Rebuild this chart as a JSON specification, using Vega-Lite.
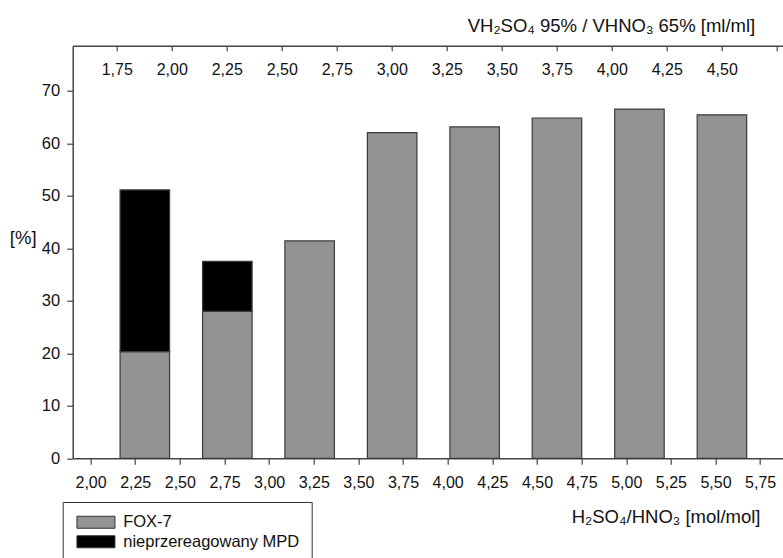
{
  "$schema": "https://vega.github.io/schema/vega-lite/v6.json",
  "autosize": "none",
  "padding": {"left": 72.7, "top": 45.7, "right": 0, "bottom": 99.7},
  "width": 710.3,
  "height": 412.6,
  "background": "white",
  "config": {
    "view": {"stroke": null},
    "font": "Liberation Sans",
    "axis": {
      "domainColor": "#444",
      "domainWidth": 1.5,
      "tickColor": "#444",
      "tickWidth": 1.2,
      "grid": false,
      "labelFont": "Liberation Sans",
      "labelFontSize": 16,
      "labelColor": "#111",
      "titleFont": "Liberation Sans",
      "titleFontWeight": "normal",
      "titleColor": "#111"
    }
  },
  "data": {
    "values": [
      {"mol": 2.304, "vol": 1.875, "sklad": "FOX-7", "proc": 20.3},
      {"mol": 2.304, "vol": 1.875, "sklad": "nieprzereagowany MPD", "proc": 30.8},
      {"mol": 2.766, "vol": 2.25, "sklad": "FOX-7", "proc": 28.0},
      {"mol": 2.766, "vol": 2.25, "sklad": "nieprzereagowany MPD", "proc": 9.5},
      {"mol": 3.227, "vol": 2.625, "sklad": "FOX-7", "proc": 41.4},
      {"mol": 3.689, "vol": 3.0, "sklad": "FOX-7", "proc": 62.0},
      {"mol": 4.151, "vol": 3.375, "sklad": "FOX-7", "proc": 63.1},
      {"mol": 4.612, "vol": 3.75, "sklad": "FOX-7", "proc": 64.8},
      {"mol": 5.074, "vol": 4.125, "sklad": "FOX-7", "proc": 66.5},
      {"mol": 5.536, "vol": 4.5, "sklad": "FOX-7", "proc": 65.4}
    ]
  },
  "layer": [
    {
      "mark": {"type": "bar", "width": 49.5, "stroke": "#3a3a3a", "strokeWidth": 1.2},
      "encoding": {
        "x": {
          "field": "mol",
          "type": "quantitative",
          "scale": {"domain": [1.9, 5.878], "nice": false, "zero": false, "padding": 0},
          "axis": {
            "orient": "bottom",
            "values": [2.0, 2.25, 2.5, 2.75, 3.0, 3.25, 3.5, 3.75, 4.0, 4.25, 4.5, 4.75, 5.0, 5.25, 5.5, 5.75],
            "labelExpr": "replace(format(datum.value, '.2f'), '.', ',')",
            "tickSize": 6,
            "labelPadding": 18,
            "labelBaseline": "middle",
            "labelFlush": false,
            "labelOverlap": false,
            "title": "H₂SO₄/HNO₃ [mol/mol]",
            "titleFontSize": 18.5,
            "titleX": 687.3,
            "titleY": 58.4,
            "titleAlign": "right",
            "titleBaseline": "middle",
            "titleAnchor": null
          }
        },
        "y": {
          "field": "proc",
          "type": "quantitative",
          "stack": "zero",
          "scale": {"domain": [0, 78.57], "nice": false},
          "axis": {
            "values": [0, 10, 20, 30, 40, 50, 60, 70],
            "tickSize": 6,
            "labelPadding": 7,
            "labelFontSize": 16.5,
            "title": "[%]",
            "titleAngle": 0,
            "titleFontSize": 18.5,
            "titleX": -50,
            "titleY": 191.5,
            "titleAlign": "center",
            "titleBaseline": "middle",
            "titleAnchor": null
          }
        },
        "color": {
          "field": "sklad",
          "type": "nominal",
          "scale": {"domain": ["FOX-7", "nieprzereagowany MPD"], "range": ["#939393", "#000000"]},
          "legend": {
            "orient": "none",
            "legendX": -10,
            "legendY": 456.3,
            "title": null,
            "strokeColor": "#333",
            "fillColor": "white",
            "padding": 12,
            "symbolType": "M-1,-1H5.3333V1H-1Z",
            "symbolSize": 144,
            "symbolStrokeColor": "#333",
            "symbolStrokeWidth": 1,
            "symbolOpacity": 1,
            "labelFont": "Liberation Sans",
            "labelFontSize": 16.5,
            "labelColor": "#111",
            "labelOffset": 32,
            "labelLimit": 400,
            "rowPadding": 2.5
          }
        },
        "order": {"field": "sklad", "sort": "ascending"}
      }
    },
    {
      "mark": {"type": "point", "opacity": 0},
      "encoding": {
        "x": {
          "field": "vol",
          "type": "quantitative",
          "scale": {"domain": [1.55, 4.7785], "nice": false, "zero": false, "padding": 0},
          "axis": {
            "orient": "top",
            "values": [1.75, 2.0, 2.25, 2.5, 2.75, 3.0, 3.25, 3.5, 3.75, 4.0, 4.25, 4.5, 4.75],
            "labelExpr": "datum.value > 4.6 ? '' : replace(format(datum.value, '.2f'), '.', ',')",
            "tickSize": -5,
            "labelPadding": -19,
            "labelBaseline": "middle",
            "labelFlush": false,
            "labelOverlap": false,
            "title": "VH₂SO₄ 95% / VHNO₃ 65% [ml/ml]",
            "titleFontSize": 18.5,
            "titleX": 682,
            "titleY": -14,
            "titleAlign": "right",
            "titleBaseline": "alphabetic",
            "titleAnchor": null
          }
        }
      }
    }
  ],
  "resolve": {"scale": {"x": "independent"}, "axis": {"x": "independent"}}
}
